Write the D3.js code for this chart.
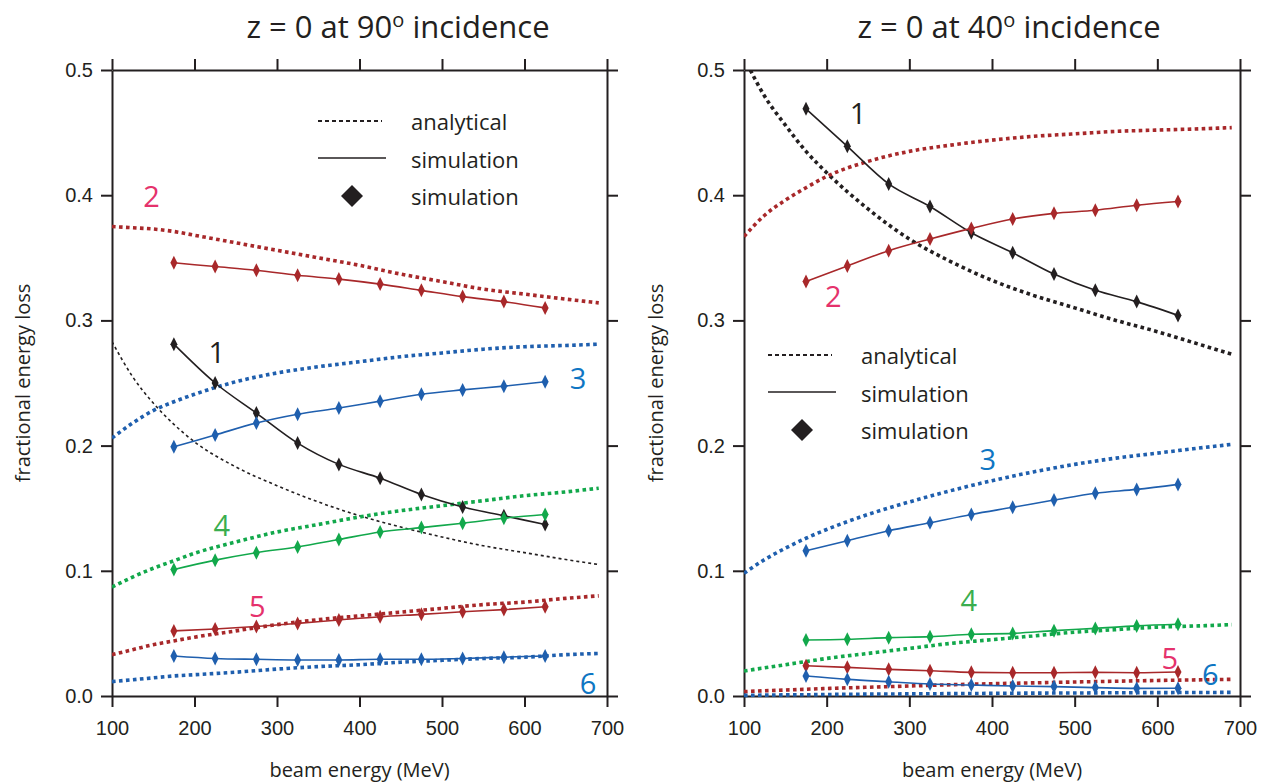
<!DOCTYPE html>
<html>
<head>
<meta charset="utf-8">
<script src="https://cdn.jsdelivr.net/npm/d3@7"></script>
<style>
  body { margin: 0; background: #fff; }
  text { fill: #231f20; }
</style>
</head>
<body>
<svg id="chart" width="1270" height="783"></svg>
<script>
const energyGrid = [100, 125, 150, 175, 200, 250, 300, 350, 400, 450, 500, 550, 600, 650, 690];
const simEnergy = [175, 225, 275, 325, 375, 425, 475, 525, 575, 625];
const xTicks = [100, 200, 300, 400, 500, 600, 700];
const yTicks = [0, 0.1, 0.2, 0.3, 0.4, 0.5];
const seriesNames = ["1", "2", "3", "4", "5", "6"];

// z = 0 at 90 deg incidence, analytical
const ana90_1 = [0.283, 0.255, 0.234, 0.217, 0.203, 0.183, 0.168, 0.155, 0.144, 0.135, 0.127, 0.120, 0.1145, 0.109, 0.105];
const ana90_2 = [0.375, 0.374, 0.373, 0.371, 0.368, 0.362, 0.356, 0.350, 0.344, 0.337, 0.331, 0.325, 0.321, 0.317, 0.314];
const ana90_3 = [0.206, 0.218, 0.228, 0.235, 0.241, 0.251, 0.258, 0.263, 0.267, 0.271, 0.274, 0.277, 0.279, 0.280, 0.281];
const ana90_4 = [0.087, 0.095, 0.102, 0.108, 0.114, 0.123, 0.131, 0.137, 0.143, 0.148, 0.152, 0.156, 0.160, 0.163, 0.166];
const ana90_5 = [0.033, 0.037, 0.041, 0.044, 0.047, 0.052, 0.057, 0.061, 0.064, 0.067, 0.070, 0.073, 0.075, 0.078, 0.080];
const ana90_6 = [0.0115, 0.013, 0.0145, 0.016, 0.017, 0.019, 0.0215, 0.0235, 0.025, 0.027, 0.0285, 0.030, 0.031, 0.033, 0.034];
// z = 0 at 90 deg incidence, simulation
const sim90_1 = [0.281, 0.250, 0.226, 0.202, 0.185, 0.174, 0.161, 0.151, 0.144, 0.137];
const sim90_2 = [0.346, 0.343, 0.340, 0.336, 0.333, 0.329, 0.324, 0.319, 0.315, 0.310];
const sim90_3 = [0.199, 0.2085, 0.218, 0.225, 0.230, 0.2355, 0.241, 0.2445, 0.2475, 0.251];
const sim90_4 = [0.101, 0.1085, 0.1145, 0.119, 0.125, 0.131, 0.1345, 0.138, 0.142, 0.145];
const sim90_5 = [0.052, 0.0535, 0.0555, 0.058, 0.0607, 0.0633, 0.0652, 0.0673, 0.069, 0.0713];
const sim90_6 = [0.032, 0.030, 0.0293, 0.0288, 0.0288, 0.0293, 0.0293, 0.030, 0.031, 0.032];

// z = 0 at 40 deg incidence, analytical
const ana40_1 = [0.510, 0.479, 0.456, 0.435, 0.418, 0.389, 0.365, 0.347, 0.332, 0.320, 0.310, 0.300, 0.291, 0.281, 0.273];
const ana40_2 = [0.367, 0.384, 0.396, 0.406, 0.415, 0.427, 0.435, 0.440, 0.444, 0.447, 0.449, 0.451, 0.452, 0.453, 0.454];
const ana40_3 = [0.098, 0.109, 0.118, 0.126, 0.133, 0.145, 0.155, 0.164, 0.172, 0.179, 0.185, 0.190, 0.194, 0.198, 0.201];
const ana40_4 = [0.020, 0.0225, 0.025, 0.0275, 0.030, 0.034, 0.038, 0.042, 0.045, 0.048, 0.051, 0.053, 0.055, 0.056, 0.057];
const ana40_5 = [0.0035, 0.0042, 0.0048, 0.0054, 0.006, 0.007, 0.008, 0.009, 0.0098, 0.0105, 0.0112, 0.0118, 0.0124, 0.0129, 0.0133];
const ana40_6 = [0.0005, 0.0007, 0.0009, 0.001, 0.0012, 0.0015, 0.0017, 0.0019, 0.0021, 0.0023, 0.0024, 0.0026, 0.0027, 0.0028, 0.0029];
// z = 0 at 40 deg incidence, simulation
const sim40_1 = [0.469, 0.439, 0.409, 0.391, 0.370, 0.354, 0.337, 0.324, 0.315, 0.304];
const sim40_2 = [0.331, 0.3435, 0.3557, 0.365, 0.3735, 0.381, 0.3855, 0.388, 0.392, 0.395];
const sim40_3 = [0.116, 0.124, 0.132, 0.1384, 0.145, 0.1507, 0.1565, 0.162, 0.165, 0.169];
const sim40_4 = [0.0447, 0.0453, 0.0466, 0.0474, 0.0493, 0.050, 0.0522, 0.054, 0.056, 0.0573];
const sim40_5 = [0.0242, 0.0229, 0.0213, 0.0202, 0.0189, 0.0186, 0.0186, 0.0189, 0.0186, 0.0192];
const sim40_6 = [0.016, 0.0133, 0.0114, 0.0096, 0.0088, 0.008, 0.0075, 0.0067, 0.0061, 0.0062];

const ink = "#231f20";
const lineColors = [ink, "#a8282a", "#1f5fae", "#12a84b", "#a8282a", "#1f5fae"];
const labelColors = [ink, "#e5326c", "#0f76c3", "#3aae4f", "#e5326c", "#0f76c3"];
const comic = "'Open Sans', 'DejaVu Sans', sans-serif";
const helv = "'Liberation Sans', Arial, sans-serif";

const panels = [
  {
    angle: "90", x0: 112, x1: 607, titleX: 398,
    ana: [ana90_1, ana90_2, ana90_3, ana90_4, ana90_5, ana90_6],
    sim: [sim90_1, sim90_2, sim90_3, sim90_4, sim90_5, sim90_6],
    thinBlack: true,
    legend: { x: 318, y: 121 },
    // where the curve numbers sit, in data units
    labelAt: [[227, 0.275], [148, 0.400], [665, 0.254], [233, 0.137], [276, 0.072], [677, 0.011]],
    yLabelX: 22
  },
  {
    angle: "40", x0: 744, x1: 1240, titleX: 1009,
    ana: [ana40_1, ana40_2, ana40_3, ana40_4, ana40_5, ana40_6],
    sim: [sim40_1, sim40_2, sim40_3, sim40_4, sim40_5, sim40_6],
    thinBlack: false,
    legend: { x: 768, y: 355 },
    labelAt: [[238, 0.466], [208, 0.320], [395, 0.190], [372, 0.077], [615, 0.031], [664, 0.0176]],
    yLabelX: 655
  }
];

const svg = d3.select("#chart");
const plotTop = 70, plotBottom = 696;

const diamond = (w, h) => `M0,${-h}L${w},0L0,${h}L${-w},0Z`;

panels.forEach((p, pi) => {
  const x = d3.scaleLinear().domain([100, 700]).range([p.x0, p.x1]);
  const y = d3.scaleLinear().domain([0, 0.5]).range([plotBottom, plotTop]);
  const g = svg.append("g");

  // axes, ticks outward on all four sides
  const styleAxis = sel => {
    sel.select(".domain").attr("stroke", ink).attr("stroke-width", 2);
    sel.selectAll(".tick line").attr("stroke", ink).attr("stroke-width", 2);
    sel.selectAll(".tick text").attr("fill", ink).style("font-family", helv).style("font-size", "20px");
  };
  g.append("g").attr("transform", `translate(0,${plotBottom})`)
    .call(d3.axisBottom(x).tickValues(xTicks).tickSize(11).tickSizeOuter(0).tickPadding(14).tickFormat(d3.format("d")))
    .call(styleAxis);
  g.append("g").attr("transform", `translate(0,${plotTop})`)
    .call(d3.axisTop(x).tickValues(xTicks).tickSize(11).tickSizeOuter(0).tickFormat(""))
    .call(styleAxis);
  g.append("g").attr("transform", `translate(${p.x0},0)`)
    .call(d3.axisLeft(y).tickValues(yTicks).tickSize(11).tickSizeOuter(0).tickPadding(8).tickFormat(d3.format(".1f")))
    .call(styleAxis);
  g.append("g").attr("transform", `translate(${p.x1},0)`)
    .call(d3.axisRight(y).tickValues(yTicks).tickSize(11).tickSizeOuter(0).tickFormat(""))
    .call(styleAxis);
  g.selectAll(".domain").attr("fill", "none");

  // titles
  const t = g.append("text").attr("x", p.titleX).attr("y", 38).attr("text-anchor", "middle")
    .style("font-family", comic).style("font-size", "31px");
  t.append("tspan").text(`z = 0 at ${p.angle}`);
  t.append("tspan").attr("dy", -11).style("font-size", "20px").text("o");
  t.append("tspan").attr("dy", 11).text(" incidence");

  g.append("text").attr("x", (p.x0 + p.x1) / 2).attr("y", 777).attr("text-anchor", "middle")
    .style("font-family", comic).style("font-size", "20px").text("beam energy (MeV)");
  g.append("text").attr("transform", `translate(${p.yLabelX},${(plotTop + plotBottom) / 2}) rotate(-90)`)
    .attr("text-anchor", "middle").attr("dominant-baseline", "central")
    .style("font-family", comic).style("font-size", "20px").text("fractional energy loss");

  // clip for curves
  svg.append("clipPath").attr("id", "clip" + pi).append("rect")
    .attr("x", p.x0).attr("y", plotTop).attr("width", p.x1 - p.x0).attr("height", plotBottom - plotTop + 4);
  const plot = g.append("g").attr("clip-path", `url(#clip${pi})`);

  const line = d3.line().curve(d3.curveMonotoneX);

  // analytical dotted curves
  p.ana.forEach((vals, i) => {
    const thin = i === 0 && p.thinBlack;
    plot.append("path")
      .attr("d", line(energyGrid.map((e, k) => [x(e), y(vals[k])])))
      .attr("fill", "none").attr("stroke", lineColors[i])
      .attr("stroke-width", thin ? 1.6 : 3.6)
      .attr("stroke-dasharray", thin ? "3,3" : "3.6,3.4");
  });

  // simulation lines and markers
  p.sim.forEach((vals, i) => {
    const pts = simEnergy.map((e, k) => [x(e), y(vals[k])]);
    plot.append("path").attr("d", line(pts))
      .attr("fill", "none").attr("stroke", lineColors[i]).attr("stroke-width", 1.6);
    plot.selectAll(null).data(simEnergy).join("path")
      .attr("transform", (e, k) => `translate(${x(e)},${y(vals[k])})`)
      .attr("d", diamond(3.5, 7)).attr("fill", lineColors[i]);
  });

  // curve numbers
  p.labelAt.forEach((pos, i) => {
    g.append("text").attr("x", x(pos[0])).attr("y", y(pos[1]))
      .attr("text-anchor", "middle").attr("dominant-baseline", "central")
      .style("font-family", comic).style("font-size", "29px")
      .style("fill", labelColors[i]).text(seriesNames[i]);
  });

  // legend
  const L = p.legend;
  const lg = g.append("g");
  lg.append("line").attr("x1", L.x).attr("x2", L.x + 64).attr("y1", L.y).attr("y2", L.y)
    .attr("stroke", ink).attr("stroke-width", 1.8).attr("stroke-dasharray", "4,3");
  lg.append("line").attr("x1", L.x).attr("x2", L.x + 68).attr("y1", L.y + 37).attr("y2", L.y + 37)
    .attr("stroke", ink).attr("stroke-width", 1.6);
  lg.append("path").attr("transform", `translate(${L.x + 34},${L.y + 75})`)
    .attr("d", diamond(11, 11)).attr("fill", ink);
  ["analytical", "simulation", "simulation"].forEach((s, k) => {
    lg.append("text").attr("x", L.x + 93).attr("y", L.y + k * 37.5).attr("dominant-baseline", "central")
      .style("font-family", comic).style("font-size", "22px").text(s);
  });
});
</script>
</body>
</html>
